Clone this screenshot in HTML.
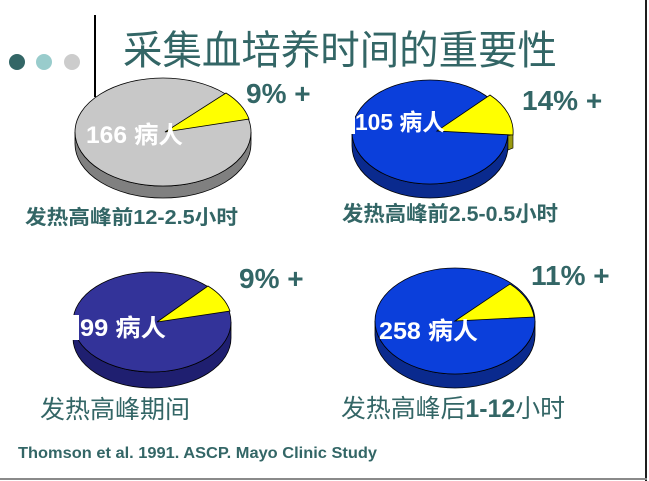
<!DOCTYPE html>
<html><head><meta charset="utf-8"><style>
html,body{margin:0;padding:0;background:#fff;}
svg{display:block;}
text{font-family:"Liberation Sans","Noto Sans CJK SC",sans-serif;}
</style></head><body>
<svg width="649" height="481" viewBox="0 0 649 481" xmlns="http://www.w3.org/2000/svg">
<rect x="0" y="0" width="649" height="481" fill="#fff"/>
<!-- frame lines -->
<rect x="645" y="0" width="2" height="481" fill="#1e1e1e"/>
<rect x="0" y="478" width="647" height="2" fill="#8a8a8a"/>
<!-- dots -->
<circle cx="17" cy="62" r="8" fill="#336666"/>
<circle cx="44" cy="62" r="8" fill="#99cccc"/>
<circle cx="72" cy="62" r="8" fill="#cccccc"/>
<rect x="94" y="15" width="2" height="82" fill="#000"/>
<!-- title -->
<text x="123" y="64" font-size="40" fill="#336666" textLength="434" lengthAdjust="spacingAndGlyphs">采集血培养时间的重要性</text>

<!-- Pie 1 -->
<path d="M75,132 L75,144 A88,54 0 0 0 251,144 L251,132 A88,54 0 0 1 75,132 Z" fill="#808080" stroke="#000" stroke-width="0.8"/>
<ellipse cx="163" cy="132" rx="88" ry="54" fill="#c8c8c8" stroke="#000" stroke-width="0.8"/>
<path d="M165,132 L226,93 A88,54 0 0 1 249,119 Z" fill="#ffff00" stroke="#000" stroke-width="0.8"/>
<text x="86" y="143" font-size="24" font-weight="bold" fill="#fff" textLength="97" lengthAdjust="spacingAndGlyphs">166 病人</text>
<text x="246" y="103" font-size="28" font-weight="bold" fill="#336666">9% +</text>
<text x="25" y="224" font-size="20" font-weight="bold" fill="#336666" textLength="213" lengthAdjust="spacingAndGlyphs">发热高峰前12-2.5小时</text>

<!-- Pie 2 -->
<path d="M352,132 L352,146 A78,52 0 0 0 508,146 L508,132 A78,52 0 0 1 352,132 Z" fill="#0a2a8e" stroke="#000" stroke-width="0.8"/>
<ellipse cx="430" cy="132" rx="78" ry="52" fill="#0b3fdb" stroke="#000" stroke-width="0.8"/>
<path d="M508,136 L513,134 L513,148 L508,150 Z" fill="#9a9a10" stroke="#000" stroke-width="0.6"/>
<path d="M437,131 L490,95 A78,52 0 0 1 513,135 Z" fill="#ffff00" stroke="#000" stroke-width="0.8"/>
<rect x="349" y="113" width="6" height="21" fill="#fff"/>
<text x="355" y="130" font-size="23" font-weight="bold" fill="#fff" textLength="90" lengthAdjust="spacingAndGlyphs">105 病人</text>
<text x="522" y="110" font-size="28" font-weight="bold" fill="#336666">14% +</text>
<text x="342" y="221" font-size="21" font-weight="bold" fill="#336666" textLength="216" lengthAdjust="spacingAndGlyphs">发热高峰前2.5-0.5小时</text>

<!-- Pie 3 -->
<path d="M73,322 L73,338 A79,50 0 0 0 231,338 L231,322 A79,50 0 0 1 73,322 Z" fill="#1f1f70" stroke="#000" stroke-width="0.8"/>
<ellipse cx="152" cy="322" rx="79" ry="50" fill="#333399" stroke="#000" stroke-width="0.8"/>
<path d="M157,322 L208,286 A79,50 0 0 1 230,311 Z" fill="#ffff00" stroke="#000" stroke-width="0.8"/>
<rect x="70" y="315" width="9" height="25" fill="#fff"/>
<text x="80" y="336" font-size="24" font-weight="bold" fill="#fff" textLength="86" lengthAdjust="spacingAndGlyphs">99 病人</text>
<text x="239" y="288" font-size="28" font-weight="bold" fill="#336666">9% +</text>
<text x="40" y="418" font-size="25" fill="#336666" textLength="150" lengthAdjust="spacingAndGlyphs">发热高峰期间</text>

<!-- Pie 4 -->
<path d="M375,321 L375,335 A80,53 0 0 0 535,335 L535,321 A80,53 0 0 1 375,321 Z" fill="#0a2a8e" stroke="#000" stroke-width="0.8"/>
<ellipse cx="455" cy="321" rx="80" ry="53" fill="#0b3fdb" stroke="#000" stroke-width="0.8"/>
<path d="M455,321 L510,284 A80,53 0 0 1 534,317 Z" fill="#ffff00" stroke="#000" stroke-width="0.8"/>
<text x="379" y="339" font-size="24" font-weight="bold" fill="#fff" textLength="99" lengthAdjust="spacingAndGlyphs">258 病人</text>
<text x="531" y="285" font-size="28" font-weight="bold" fill="#336666">11% +</text>
<text x="341" y="417" font-size="25" fill="#336666" textLength="224" lengthAdjust="spacingAndGlyphs">发热高峰后<tspan font-weight="bold">1-12</tspan>小时</text>

<!-- footer -->
<text x="18" y="458" font-size="16" font-weight="bold" fill="#336666" textLength="359" lengthAdjust="spacingAndGlyphs">Thomson et al. 1991. ASCP. Mayo Clinic Study</text>
</svg>
</body></html>
